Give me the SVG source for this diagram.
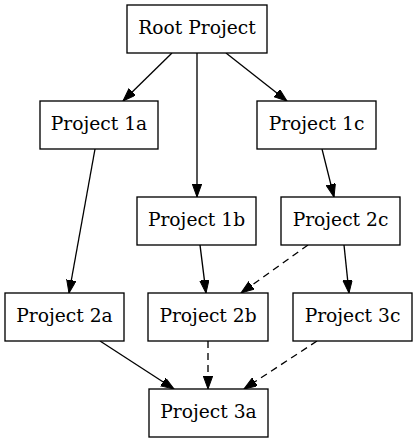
<svg xmlns="http://www.w3.org/2000/svg" width="417" height="443" viewBox="0 0 417 443">
<style>
.node rect{fill:#fff;stroke:#000;stroke-width:1.33}
.node text{font-family:"DejaVu Serif",serif;font-size:18.67px;text-anchor:middle;fill:#000}
.edge{fill:none;stroke:#000;stroke-width:1.33}
.dash{stroke-dasharray:7,5}
</style>
<defs>
<marker id="ah" markerUnits="userSpaceOnUse" markerWidth="14" markerHeight="10" refX="13" refY="4.7" orient="auto">
<path d="M0,0 L13,4.7 L0,9.4 z" fill="#000" stroke="#000" stroke-width="1" stroke-dasharray="none"/>
</marker>
</defs>
<rect width="417" height="443" fill="#fff"/>
<g id="connectors">
<path class="edge" d="M172,53 L123,101" marker-end="url(#ah)"/>
<path class="edge" d="M197,53 L197,197" marker-end="url(#ah)"/>
<path class="edge" d="M226,53 L287,101" marker-end="url(#ah)"/>
<path class="edge" d="M95,149 L69,293" marker-end="url(#ah)"/>
<path class="edge" d="M322,149 L334,197" marker-end="url(#ah)"/>
<path class="edge" d="M200,245 L206,293" marker-end="url(#ah)"/>
<path class="edge dash" d="M308,245 L241,293" marker-end="url(#ah)"/>
<path class="edge" d="M344,245 L349,293" marker-end="url(#ah)"/>
<path class="edge" d="M100,341 L174,389" marker-end="url(#ah)"/>
<path class="edge dash" d="M208,341 L208,389" marker-end="url(#ah)"/>
<path class="edge dash" d="M317,341 L244,389" marker-end="url(#ah)"/>
</g>
<g id="root" class="node"><rect x="127" y="5" width="140" height="48"/><text x="197" y="34">Root Project</text></g>
<g id="p1a" class="node"><rect x="40" y="101" width="118" height="48"/><text x="99" y="130">Project 1a</text></g>
<g id="p1c" class="node"><rect x="257" y="101" width="119" height="48"/><text x="316.5" y="130">Project 1c</text></g>
<g id="p1b" class="node"><rect x="137" y="197" width="119" height="48"/><text x="196.5" y="226">Project 1b</text></g>
<g id="p2c" class="node"><rect x="281" y="197" width="119" height="48"/><text x="340.5" y="226">Project 2c</text></g>
<g id="p2a" class="node"><rect x="5" y="293" width="119" height="48"/><text x="64.5" y="322">Project 2a</text></g>
<g id="p2b" class="node"><rect x="148" y="293" width="120" height="48"/><text x="208" y="322">Project 2b</text></g>
<g id="p3c" class="node"><rect x="293" y="293" width="119" height="48"/><text x="352.5" y="322">Project 3c</text></g>
<g id="p3a" class="node"><rect x="149" y="389" width="119" height="48"/><text x="208.5" y="418">Project 3a</text></g>
</svg>
